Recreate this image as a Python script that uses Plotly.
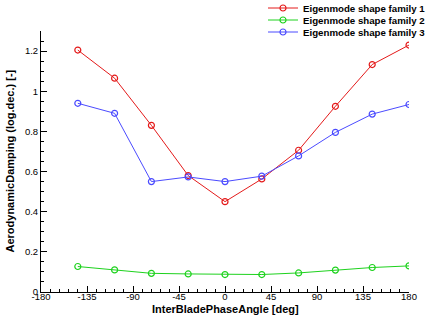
import plotly.graph_objects as go

ibpa = [-144, -108, -72, -36, 0, 36, 72, 108, 144, 180]
family1 = [1.205, 1.065, 0.83, 0.58, 0.45, 0.563, 0.706, 0.925, 1.133, 1.23]
family2 = [0.127, 0.11, 0.093, 0.09, 0.087, 0.087, 0.095, 0.109, 0.122, 0.13]
family3 = [0.94, 0.89, 0.55, 0.573, 0.55, 0.577, 0.678, 0.795, 0.886, 0.934]
names = ["Eigenmode shape family 1", "Eigenmode shape family 2", "Eigenmode shape family 3"]
colors = ["#e41a1a", "#1ed21e", "#4b4bff"]
x_ticks = [-180, -135, -90, -45, 0, 45, 90, 135, 180]
y_ticks = [0, 0.2, 0.4, 0.6, 0.8, 1, 1.2]
x_title = "InterBladePhaseAngle [deg]"
y_title = "AerodynamicDamping (log.dec.) [-]"

W, H = 426, 323
ML, MR, MT, MB = 41, 17, 31, 31
legend_ids = ["legend", "legend2", "legend3"]
legend_centers_px = [8, 20, 32]

fig = go.Figure()
for ys, name, c, lid in zip([family1, family2, family3], names, colors, legend_ids):
    fig.add_trace(go.Scatter(
        x=ibpa, y=ys, name=name, mode="lines+markers", legend=lid,
        line=dict(color=c, width=1),
        marker=dict(symbol="circle-open", size=6, color=c, line=dict(width=1.2, color=c)),
    ))

axis_common = dict(
    showline=True, linecolor="black", linewidth=1, mirror=False,
    ticks="inside", ticklen=6, tickwidth=1, tickcolor="black",
    showgrid=False, zeroline=False,
    tickfont=dict(family="Liberation Sans, Arial", size=9.5, color="black"),
)
fig.update_xaxes(
    range=[-180, 180], tickmode="array", tickvals=x_ticks,
    ticktext=[str(v) for v in x_ticks], ticklabelstandoff=-4,
    minor=dict(ticks="inside", ticklen=3, tickwidth=1, tickcolor="black", dtick=9, tick0=-180, showgrid=False),
    **axis_common,
)
fig.update_yaxes(
    range=[0, 1.3], tickmode="array", tickvals=y_ticks,
    ticktext=["0", "0.2", "0.4", "0.6", "0.8", "1", "1.2"],
    minor=dict(ticks="inside", ticklen=3, tickwidth=1, tickcolor="black", dtick=0.05, tick0=0, showgrid=False),
    **axis_common,
)

plot_w = W - ML - MR
plot_h = H - MT - MB
title_font = dict(family="Liberation Sans, Arial", size=11, color="black", weight="bold")
fig.add_annotation(
    text=x_title, xref="paper", yref="paper",
    x=0.5, y=(H - MB - 309) / plot_h, xanchor="center", yanchor="middle",
    showarrow=False, font=title_font,
)
fig.add_annotation(
    text=y_title, xref="paper", yref="paper",
    x=(9 - ML) / plot_w, y=0.5, xanchor="center", yanchor="middle",
    textangle=-90, showarrow=False, font=title_font,
)

legend_style = dict(
    xref="container", yref="container", x=263 / W, xanchor="left", yanchor="middle",
    bgcolor="rgba(0,0,0,0)", borderwidth=0,
    font=dict(family="Liberation Sans, Arial", size=9.7, color="black", weight="bold"),
    itemwidth=30,
)
legends = {}
for lid, cy in zip(legend_ids, legend_centers_px):
    legends[lid] = dict(legend_style, y=1 - cy / H)

fig.update_layout(
    width=W, height=H,
    margin=dict(l=ML, r=MR, t=MT, b=MB, autoexpand=False),
    paper_bgcolor="white", plot_bgcolor="white",
    showlegend=True,
    **legends,
)
fig.write_html("out.html", config={"displayModeBar": False},
               post_script="document.body.style.margin='0px';")
